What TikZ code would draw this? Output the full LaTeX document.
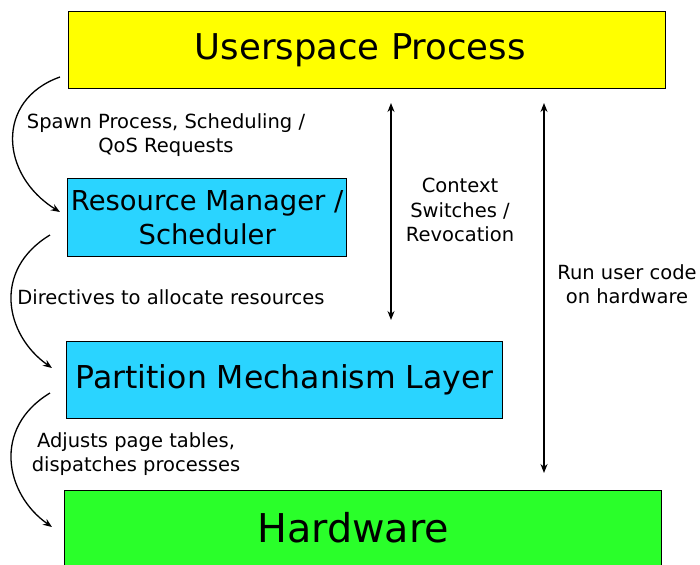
\documentclass[tikz,border=0pt]{standalone}
\usepackage{fontspec}
\setmainfont{DejaVu Sans}
\usetikzlibrary{positioning, arrows.meta}
\definecolor{myyellow}{RGB}{255,255,0}
\definecolor{mycyan}{RGB}{42,212,255}
\definecolor{mygreen}{RGB}{42,255,42}
\tikzset{
  layer/.style={draw, line width=1.4pt, inner sep=0, align=center,
    anchor=north west, text=black},
  lbl/.style={align=center, inner sep=0, font=\fontsize{19.5}{24.5}\selectfont},
  flow/.style={-{Stealth[length=9pt,width=7pt]}, line width=1.3pt},
  both/.style={{Stealth[length=9pt,width=7pt]}-{Stealth[length=9pt,width=7pt]}, line width=1.3pt}
}

\begin{document}
\begin{tikzpicture}[x=1pt,y=-1pt]
\clip (0,0) rectangle (700,564);

% layers
\node [layer, fill=myyellow, minimum width=597, minimum height=77,
  font=\fontsize{35.5}{40}\selectfont] (user) at (68,11)
  {\hspace*{-14pt}\raisebox{4pt}{Userspace Process}};
\node [layer, fill=mycyan, minimum width=279, minimum height=78,
  font=\fontsize{27.4}{34}\selectfont] (rm) at (67,178) {Resource Manager /\\Scheduler};
\node [layer, fill=mycyan, minimum width=436, minimum height=77,
  font=\fontsize{31.5}{36}\selectfont] (pml) at (66,341) {Partition Mechanism Layer};
\node [layer, fill=mygreen, minimum width=597, minimum height=76,
  font=\fontsize{39.7}{44}\selectfont] (hw) at (64,490)
  {\hspace*{-20pt}\raisebox{3pt}{Hardware}};

% arrow ends
\coordinate (s1) at (60,77);
\coordinate (e1) at (60,212);
\coordinate (s2) at (50,235);
\coordinate (e2) at (52,368);
\coordinate (s3) at (50,393);
\coordinate (e3) at (52,527);
\coordinate (ctop) at (391,103);
\coordinate (cbot) at (391,320);
\coordinate (rtop) at (544,103);
\coordinate (rbot) at (544,473);

\draw [flow] (s1) .. controls (-5,100) and (0,175) .. (e1);
\draw [flow] (s2) .. controls (-8,270) and (5,335) .. (e2);
\draw [flow] (s3) .. controls (-8,428) and (5,494) .. (e3);
\draw [both] (ctop) -- (cbot);
\draw [both] (rtop) -- (rbot);

% labels
\node [lbl] (spawn) at (166,135) {Spawn Process, Scheduling /\\QoS Requests};
\node [lbl] (dir) at (171,297) {Directives to allocate resources};
\node [lbl] (adj) at (136,454) {Adjusts page tables,\\dispatches processes};
\node [lbl] (ctx) at (460,210) {Context\\Switches /\\Revocation};
\node [lbl] (run) at (627,284) {Run user code\\on hardware};

\end{tikzpicture}
\end{document}
